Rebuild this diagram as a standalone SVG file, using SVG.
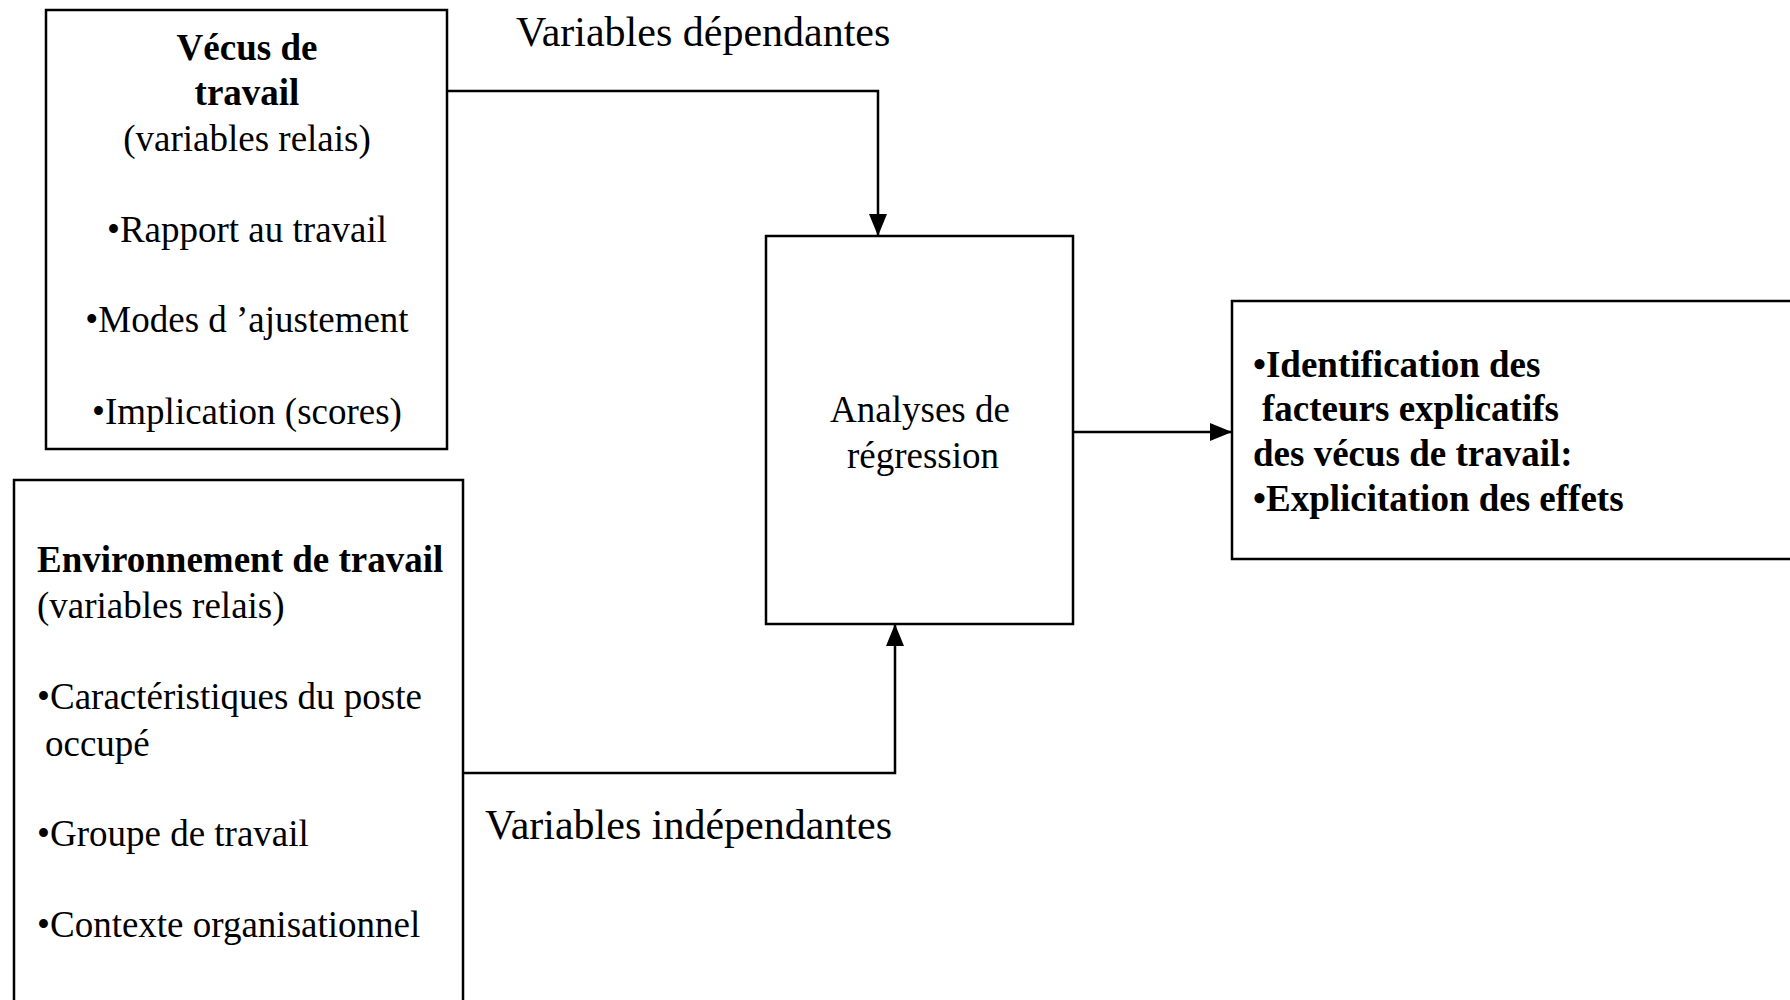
<svg xmlns="http://www.w3.org/2000/svg" width="1790" height="1000" viewBox="0 0 1790 1000">
<style>
.box{fill:#fff;stroke:#000;stroke-width:2.5}
.t{font-family:"Liberation Serif","Times New Roman",serif;font-size:37px;fill:#000}
.b{font-weight:bold}
.c{text-anchor:middle}
.lbl{font-family:"Liberation Serif","Times New Roman",serif;font-size:42px;fill:#000}
.conn{fill:none;stroke:#000;stroke-width:2.5}
</style>
<defs>
<marker id="arr" viewBox="0 0 10 10" refX="10" refY="5" markerWidth="9" markerHeight="9" markerUnits="userSpaceOnUse" orient="auto">
<path d="M0,0 L10,5 L0,10 z" fill="#000"/>
</marker>
<marker id="ah" viewBox="0 0 22 18" refX="22" refY="9" markerWidth="22" markerHeight="18" markerUnits="userSpaceOnUse" orient="auto">
<path d="M0,0 L22,9 L0,18 z" fill="#000"/>
</marker>
</defs>
<rect width="1790" height="1000" fill="#fff"/>

<g id="connectors">
<path class="conn" d="M447,91 H878 V236" marker-end="url(#ah)"/>
<path class="conn" d="M463,773 H895 V624" marker-end="url(#ah)"/>
<path class="conn" d="M1073,432 H1232" marker-end="url(#ah)"/>
<text class="lbl" x="516" y="46">Variables dépendantes</text>
<text class="lbl" x="485" y="839">Variables indépendantes</text>
</g>

<g id="vecus">
<rect class="box" x="46" y="10" width="401" height="439"/>
<text class="t b c" x="247" y="60">Vécus de</text>
<text class="t b c" x="247" y="105">travail</text>
<text class="t c" x="247" y="151">(variables relais)</text>
<text class="t c" x="247" y="242">•Rapport au travail</text>
<text class="t c" x="247" y="332">•Modes d ’ajustement</text>
<text class="t c" x="247" y="424">•Implication (scores)</text>
</g>

<g id="environnement">
<rect class="box" x="14" y="480" width="449" height="540"/>
<text class="t b" x="37" y="572">Environnement de travail</text>
<text class="t" x="37" y="618">(variables relais)</text>
<text class="t" x="37" y="709">•Caractéristiques du poste</text>
<text class="t" x="45" y="756">occupé</text>
<text class="t" x="37" y="846">•Groupe de travail</text>
<text class="t" x="37" y="937">•Contexte organisationnel</text>
</g>

<g id="analyses">
<rect class="box" x="766" y="236" width="307" height="388"/>
<text class="t c" x="920" y="422">Analyses de</text>
<text class="t c" x="923" y="468">régression</text>
</g>

<g id="resultats">
<rect class="box" x="1232" y="301" width="580" height="258"/>
<text class="t b" x="1253" y="377">•Identification des</text>
<text class="t b" x="1262" y="421">facteurs explicatifs</text>
<text class="t b" x="1253" y="466">des vécus de travail:</text>
<text class="t b" x="1253" y="511">•Explicitation des effets</text>
</g>
</svg>
